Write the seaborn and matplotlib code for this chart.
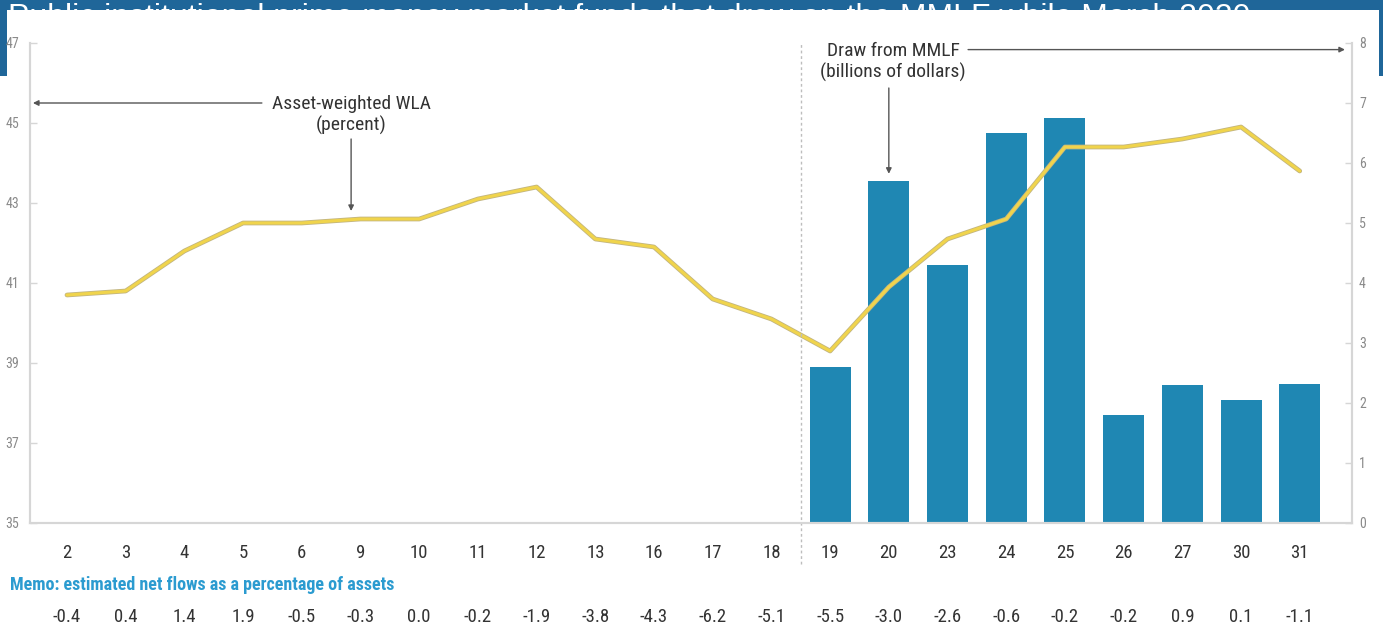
import numpy as np
import pandas as pd
import matplotlib.pyplot as plt
import matplotlib.patheffects as pe
from matplotlib import font_manager
from matplotlib.patches import Rectangle
import seaborn as sns

# trading days in March 2020
days = ['2', '3', '4', '5', '6', '9', '10', '11', '12', '13', '16', '17', '18',
        '19', '20', '23', '24', '25', '26', '27', '30', '31']
# asset-weighted WLA (percent), left axis
wla = [40.7, 40.8, 41.8, 42.5, 42.5, 42.6, 42.6, 43.1, 43.4, 42.1, 41.9, 40.6, 40.1,
       39.3, 40.9, 42.1, 42.6, 44.4, 44.4, 44.6, 44.9, 43.8]
# draw from MMLF (billions of dollars), right axis
draw_days = ['19', '20', '23', '24', '25', '26', '27', '30', '31']
draw = [2.6, 5.7, 4.3, 6.5, 6.75, 1.8, 2.3, 2.05, 2.32]
# memo: estimated net flows as a percentage of assets
memo = ['-0.4', '0.4', '1.4', '1.9', '-0.5', '-0.3', '0.0', '-0.2', '-1.9', '-3.8', '-4.3',
        '-6.2', '-5.1', '-5.5', '-3.0', '-2.6', '-0.6', '-0.2', '-0.2', '0.9', '0.1', '-1.1']

title = 'Public institutional prime money market funds that drew on the MMLF while March 2020'

sns.set_style('white')

# pick a narrow face if one is around, otherwise Roboto
installed = {f.name for f in font_manager.fontManager.ttflist}
narrow = None
for cand in ['Liberation Sans Narrow', 'Roboto Condensed', 'Open Sans Condensed',
             'DejaVu Sans Condensed']:
    if cand in installed:
        narrow = cand
        break
if narrow is None:
    narrow = 'Roboto'
    scale = 0.88
else:
    scale = 1.0
plt.rcParams['font.family'] = [narrow, 'DejaVu Sans']

W, H = 1383, 629
fig = plt.figure(figsize=(W / 100, H / 100), dpi=100)
fig.patch.set_facecolor('white')

# header band with the title, mostly hidden under the white panel
fig.patches.append(Rectangle((0, 1 - 76 / H), 1, 76 / H, transform=fig.transFigure,
                             facecolor='#1f6699', edgecolor='none', zorder=-4))
fig.text(8 / W, 1 - 26 / H, title, color='white', fontsize=23, va='baseline', ha='left',
         family=['Liberation Sans', 'DejaVu Sans'], zorder=-3)
fig.patches.append(Rectangle((7 / W, 0), (1379 - 7) / W, 1 - 10 / H, transform=fig.transFigure,
                             facecolor='white', edgecolor='none', zorder=-2))

ax2 = fig.add_axes([30 / W, 1 - 523 / H, (1352 - 30) / W, (523 - 43) / H])
ax = ax2.twinx()
ax.yaxis.tick_left()
ax2.yaxis.tick_right()
ax.set_zorder(ax2.get_zorder() + 1)
ax.patch.set_visible(False)

bars = pd.DataFrame({'day': draw_days, 'draw': draw})
sns.barplot(data=bars, x='day', y='draw', order=days, color='#1f87b3', width=0.7,
            saturation=1, linewidth=0, ax=ax2)

line = pd.DataFrame({'day': days, 'wla': wla})
sns.lineplot(data=line, x='day', y='wla', color='#f0d44c', linewidth=2.2, ax=ax,
             path_effects=[pe.Stroke(linewidth=3.4, foreground='#c2b580'), pe.Normal()])

ax.set_xlim(-0.63, len(days) - 1 + 0.89)
ax.set_ylim(35, 47)
ax.set_yticks([35, 37, 39, 41, 43, 45, 47])
ax2.set_ylim(0, 8)
ax2.set_yticks(range(9))
ax.set_xlabel('')
ax.set_ylabel('')
ax2.set_xlabel('')
ax2.set_ylabel('')

spine_col = '#d6d6d6'
for a in (ax, ax2):
    for s in a.spines.values():
        s.set_color(spine_col)
        s.set_linewidth(1.5)
    a.spines['top'].set_visible(False)

ax.tick_params(axis='y', direction='in', length=5, width=1, color=spine_col,
               labelsize=10 * scale, labelcolor='#8a8a8a', pad=8, left=True, right=False)
ax2.tick_params(axis='y', direction='in', length=5, width=1, color=spine_col,
                labelsize=10 * scale, labelcolor='#8a8a8a', pad=5, right=True, left=False)
ax2.tick_params(axis='x', length=0, pad=15, labelsize=13.5 * scale, labelcolor='#333333')
ax.tick_params(axis='x', length=0, labelbottom=False)

# split between before / after MMLF launch
ax.axvline(12.5, ymin=-0.085, ymax=1.0, color='#bdbdbd', linestyle=(0, (2, 2)),
           linewidth=1, clip_on=False)

arrow = dict(arrowstyle='-|>', color='#555555', lw=1, mutation_scale=8, shrinkA=0, shrinkB=0)
ax.text(4.84, 45.2, 'Asset-weighted WLA\n(percent)', ha='center', va='center',
        fontsize=14 * scale, color='#333333', linespacing=1.2)
ax.annotate('', xy=(-0.58, 45.5), xytext=(3.32, 45.5), arrowprops=arrow)
ax.annotate('', xy=(4.84, 42.8), xytext=(4.84, 44.6), arrowprops=arrow)

ax2.text(14.07, 7.69, 'Draw from MMLF\n(billions of dollars)', ha='center', va='center',
         fontsize=14 * scale, color='#333333', linespacing=1.2)
ax2.annotate('', xy=(21.77, 7.89), xytext=(15.35, 7.89), arrowprops=arrow)
ax2.annotate('', xy=(14.0, 5.82), xytext=(14.0, 7.25), arrowprops=arrow)

# memo row under the axis
fig.text(10 / W, 1 - 585 / H, 'Memo: estimated net flows as a percentage of assets',
         color='#2b9bd0', fontsize=13 * scale, fontweight='bold', ha='left', va='center')
for i, m in enumerate(memo):
    ax2.text(i, -0.196, m, transform=ax2.get_xaxis_transform(), ha='center', va='center',
             fontsize=13.5 * scale, color='#333333')

fig.savefig('out.png', dpi=100)
